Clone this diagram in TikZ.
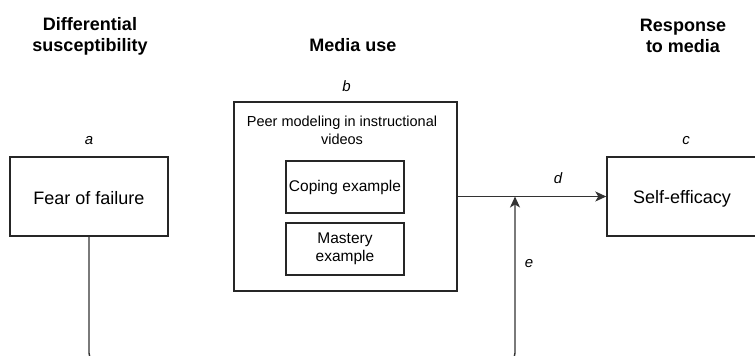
\documentclass[tikz,border=0pt]{standalone}
\usepackage{fontspec}
\setmainfont{Liberation Sans}
\usetikzlibrary{positioning, arrows.meta}

\begin{document}
\begin{tikzpicture}[
    x=1pt, y=-1pt,
    arrow/.style={-{Stealth[length=11pt, width=10pt, inset=3pt]}, line width=1.4pt, draw=black!80},
    box/.style={draw=black!85, line width=1.4pt, inner sep=0pt, text height=17pt, font=\fontsize{18}{21}\selectfont},
    subbox/.style={box, text height=, minimum width=118pt, minimum height=52pt, align=center, font=\fontsize{15.5}{18}\selectfont},
    head/.style={font=\fontsize{18}{21}\selectfont\bfseries, align=center},
    letter/.style={font=\fontsize{15}{18}\selectfont\itshape, inner sep=0pt}
]
    \useasboundingbox (0,0) rectangle (755,356);

    % === Column headers ===
    \node[head] (hdiff) at (90,36) {Differential\\susceptibility};
    \node[head] (hmedia) at (353,45) {Media use};
    \node[head] (hresp) at (683,36) {Response\\to media};

    % === Boxes ===
    \node[box, minimum width=158pt, minimum height=79pt] (fear) at (89,196.5) {Fear of failure};
    \node[box, minimum width=223pt, minimum height=189pt] (media) at (345.5,196.5) {};
    \node[font=\fontsize{14.5}{18}\selectfont, align=center] (peer) at (342,130) {Peer modeling in instructional\\videos};
    \node[subbox] (coping) at (345,187) {Coping example};
    \node[subbox] (mastery) at (345,249) {Mastery\\example};
    \node[box, minimum width=150pt, minimum height=79pt] (self) at (682,196.5) {Self-efficacy};

    % === Path letters ===
    \node[letter, above=11pt of fear] (la) {a};
    \node[letter, above=9pt of media, xshift=1pt] (lb) {b};
    \node[letter, above=11pt of self, xshift=4pt] (lc) {c};
    \node[letter] (ld) at (558,178) {d};
    \node[letter] (le) at (529,264) {e};

    % === Connectors ===
    \coordinate (mod) at (515,196.5);
    \coordinate (low) at (515,362);
    \draw[arrow] (media) -- (self);
    \draw[arrow, rounded corners=9pt] (fear.south) |- (low) -- (mod);

\end{tikzpicture}
\end{document}
